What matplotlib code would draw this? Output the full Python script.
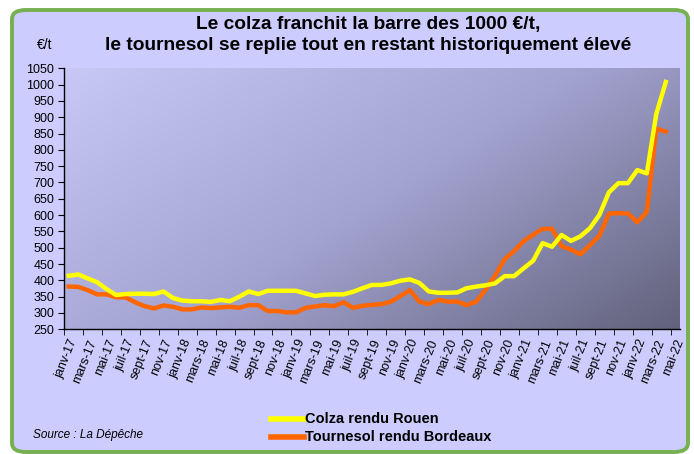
import numpy as np
import matplotlib
matplotlib.use('Agg')
import matplotlib.pyplot as plt
from matplotlib.patches import FancyBboxPatch
from matplotlib.colors import LinearSegmentedColormap

plt.rcParams['font.family'] = ['Liberation Sans', 'DejaVu Sans']

# monthly prices, janv-17 .. avr-22 (axis runs to mai-22)
months = ['janv', 'févr', 'mars', 'avr', 'mai', 'juin', 'juil', 'août', 'sept', 'oct', 'nov', 'déc']
categories = [f'{m}-{y}' for y in range(17, 23) for m in months][:65]

colza = [414, 418, 406, 394, 373, 355, 358, 359, 359, 358, 366, 346,
         338, 336, 336, 334, 340, 336, 350, 366, 358, 368, 368, 368,
         368, 360, 352, 356, 357, 357, 365, 376, 386, 386, 391, 399,
         403, 392, 366, 362, 362, 363, 376, 381, 385, 391, 413, 413,
         437, 460, 514, 503, 539, 521, 535, 560, 601, 670, 698, 698,
         738, 728, 910, 1008]
tournesol = [381, 380, 370, 357, 357, 348, 348, 333, 321, 314, 323, 319,
             311, 311, 317, 315, 317, 319, 316, 324, 324, 306, 306, 302,
             302, 316, 320, 324, 321, 333, 316, 322, 325, 327, 335, 352,
             370, 335, 327, 340, 335, 335, 324, 335, 372, 415, 465, 490,
             520, 540, 558, 558, 505, 494, 480, 508, 537, 605, 606, 605,
             578, 610, 865, 856]

LAV, FRAME = '#ccccff', '#77b050'
YELLOW, ORANGE = '#ffff00', '#ff6600'

fig = plt.figure(figsize=(6.94, 4.54), dpi=100)
fig.patch.set_facecolor('white')
frame = FancyBboxPatch((12 / 694, 2 / 454), 676 / 694, 442 / 454,
                       boxstyle='round,pad=0,rounding_size=0.02',
                       transform=fig.transFigure, facecolor=LAV,
                       edgecolor=FRAME, linewidth=2.8, zorder=-5)
fig.patches.append(frame)

ax = fig.add_axes([64 / 694, 1 - 329.3 / 454, 616 / 694, 261 / 454], zorder=2)
ax.set_facecolor('none')

# diagonal gradient background of the plot area
grad = LinearSegmentedColormap.from_list('g', ['#c8c8f6', '#a4a4d2', '#62627c'])
gx, gy = np.meshgrid(np.linspace(0, 1, 200), np.linspace(1, 0, 200))
ax.imshow(0.6 * gx + 0.4 * (1 - gy), cmap=grad, extent=[0, 1, 0, 1],
          transform=ax.transAxes, aspect='auto', zorder=0, vmin=0, vmax=1)

x = np.arange(len(colza))
ax.plot(x, colza, color=YELLOW, linewidth=3.2, solid_joinstyle='round', zorder=3)
ax.plot(np.arange(len(tournesol)), tournesol, color=ORANGE, linewidth=3.2,
        solid_joinstyle='round', zorder=2)

ax.set_xlim(-0.5, len(categories) - 0.5)
ax.set_ylim(250, 1050)
ax.set_yticks(range(250, 1051, 50))
ax.tick_params(axis='y', length=4, labelsize=9, pad=3)

lab_idx = list(range(0, len(categories), 2))
ax.set_xticks(lab_idx)
ax.set_xticklabels([categories[i] for i in lab_idx], rotation=68, ha='right',
                   rotation_mode='anchor', fontsize=9)
ax.tick_params(axis='x', length=0, pad=6)
ax.set_xticks([i - 0.5 for i in lab_idx], minor=True)
ax.tick_params(axis='x', which='minor', length=4, color='black')

for s in ('top', 'right'):
    ax.spines[s].set_visible(False)
for s in ('left', 'bottom'):
    ax.spines[s].set_color('black')
    ax.spines[s].set_linewidth(1)

fig.text(368 / 694, 1 - 24 / 454, 'Le colza franchit la barre des 1000 €/t,',
         ha='center', va='center', fontsize=13.8, fontweight='bold')
fig.text(368 / 694, 1 - 45 / 454, 'le tournesol se replie tout en restant historiquement élevé',
         ha='center', va='center', fontsize=13.8, fontweight='bold')
fig.text(45 / 694, 1 - 45 / 454, '€/t', ha='center', va='center', fontsize=10)

# legend
for yy, col, lab in ((419, YELLOW, 'Colza rendu Rouen'),
                     (437, ORANGE, 'Tournesol rendu Bordeaux')):
    fig.add_artist(plt.Line2D([271 / 694, 304 / 694], [1 - yy / 454] * 2,
                              color=col, linewidth=4, transform=fig.transFigure))
    fig.text(305 / 694, 1 - yy / 454, lab, ha='left', va='center',
             fontsize=10.5, fontweight='bold')

fig.text(33 / 694, 1 - 435 / 454, 'Source : La Dépêche', ha='left', va='center',
         fontsize=8.5, style='italic')

fig.savefig('out.png', dpi=100)
